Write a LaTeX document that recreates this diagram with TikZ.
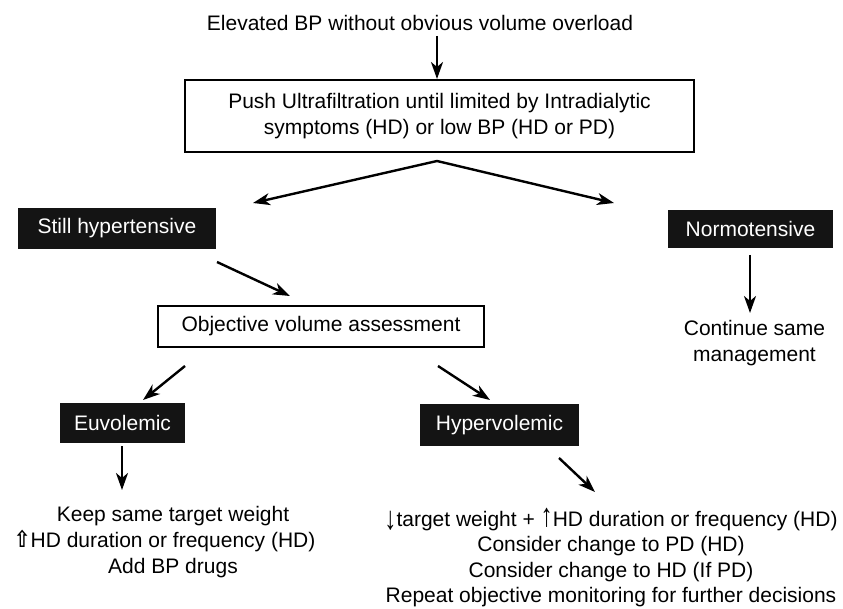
\documentclass[tikz,border=0pt]{standalone}
\usepackage{fontspec}
\usepackage{graphicx}
\setmainfont{Liberation Sans}
\newfontfamily\symfont{DejaVu Sans}
\newcommand{\uparr}{\smash{\raisebox{-0.5pt}{\scalebox{1.15}[1.55]{↑}}}}
\newcommand{\dnarr}{\smash{\raisebox{-3pt}{\scalebox{1.15}[1.55]{↓}}}}
\newcommand{\wuparr}{\llap{\smash{\symfont\bfseries\scalebox{0.95}[1.1]{⇧}}}}
\usetikzlibrary{arrows.meta}
\begin{document}
\begin{tikzpicture}[x=1pt,y=-1pt,
  every node/.style={font=\fontsize{21}{25.6}\selectfont, inner sep=0pt},
  txt/.style={align=center},
  wbox/.style={draw, line width=2.4pt, align=center},
  bbox/.style={fill=black!92, text=white},
  arr/.style={-{Stealth[length=17pt,width=12pt,inset=5pt]}, line width=2.4pt}]
\fill[white] (0,0) rectangle (843,609);
\useasboundingbox (0,0) rectangle (843,609);
% nodes
\node[txt] (top) at (420,23) {Elevated BP without obvious volume overload};
\node[wbox, minimum width=509pt, minimum height=72pt] (push) at (439.5,116)
  {Push Ultrafiltration until limited by Intradialytic\\symptoms (HD) or low BP (HD or PD)};
\node[bbox, minimum width=198pt, minimum height=41pt] (still) at (117,228.5) {Still hypertensive};
\node[bbox, minimum width=165pt, minimum height=38pt] (normo) at (750.5,229) {Normotensive};
\node[wbox, minimum width=326pt, minimum height=41pt] (obj) at (321,326.5) {Objective volume assessment};
\node[txt] (cont) at (754.5,343) {Continue same\\management};
\node[bbox, minimum width=125pt, minimum height=40pt] (euvo) at (122.5,423) {Euvolemic};
\node[bbox, minimum width=159pt, minimum height=42pt] (hyper) at (499.5,425) {Hypervolemic};
\node[txt] (euact) at (173,542) {Keep same target weight\\\wuparr HD duration or frequency (HD)\\Add BP drugs};
\node[txt] (hyact) at (611,559) {\dnarr target weight + \uparr HD duration or frequency (HD)\\Consider change to PD (HD)\\Consider change to HD (If PD)\\Repeat objective monitoring for further decisions};
% connector end points
\coordinate (t0) at (437,36);
\coordinate (t1) at (437,79);
\coordinate (apex) at (437,161);
\coordinate (lt) at (253,203);
\coordinate (rt) at (614,203);
\coordinate (s1) at (217,262);
\coordinate (e1) at (290,296);
\coordinate (n0) at (750,255);
\coordinate (n1) at (750,313);
\coordinate (s2) at (185,366);
\coordinate (e2) at (143,400);
\coordinate (s3) at (438,366);
\coordinate (e3) at (490,400);
\coordinate (u0) at (122,446);
\coordinate (u1) at (122,490);
\coordinate (s4) at (559,458);
\coordinate (e4) at (595,492);
% connectors
\draw[arr] (t0) -- (t1);
\draw[arr] (apex) -- (lt);
\draw[arr] (apex) -- (rt);
\draw[arr] (s1) -- (e1);
\draw[arr] (n0) -- (n1);
\draw[arr] (s2) -- (e2);
\draw[arr] (s3) -- (e3);
\draw[arr] (u0) -- (u1);
\draw[arr] (s4) -- (e4);
\end{tikzpicture}
\end{document}
